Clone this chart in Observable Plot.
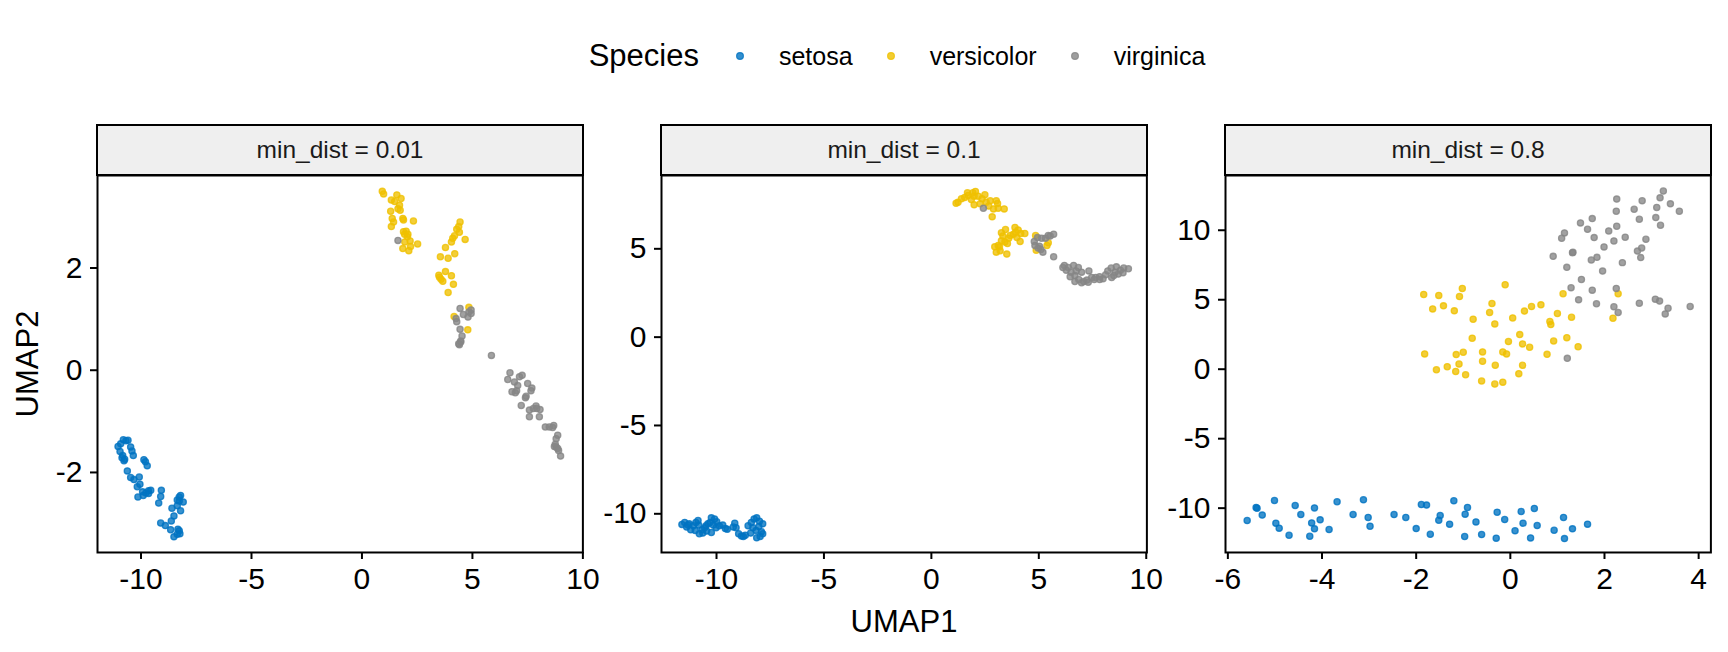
<!DOCTYPE html>
<html><head><meta charset="utf-8">
<script src="https://cdn.jsdelivr.net/npm/d3@7"></script>
<script src="https://cdn.jsdelivr.net/npm/@observablehq/plot@0.6"></script>
<style>
body{margin:0;background:#fff;}
#fig{position:relative;width:1728px;height:652px;overflow:hidden;font-family:"Liberation Sans",Arial,Helvetica,sans-serif;background:#fff;color:#000;}
.strip{position:absolute;box-sizing:border-box;border:2.2px solid #000;background:#efefef;display:flex;align-items:center;justify-content:center;font-size:24.5px;color:#1a1a1a;}
.panel{position:absolute;}
#legend{position:absolute;left:97px;width:1614px;top:32px;height:48px;display:flex;align-items:center;justify-content:center;}
#legend .title{font-size:31px;margin-right:17px;}
#legend .lab{font-size:25px;margin-left:15px;margin-right:14px;}
.xtitle{position:absolute;left:97px;width:1614px;top:604px;text-align:center;font-size:31px;line-height:36px;}
.ytitle{position:absolute;left:28px;top:364px;font-size:31px;line-height:36px;transform:translate(-50%,-50%) rotate(-90deg);white-space:nowrap;}
</style></head>
<body><div id="fig"></div>
<script>
const species = ["setosa", "versicolor", "virginica"];
const colors = ["#0073C2", "#EFC000", "#868686"];
const facets = ["min_dist = 0.01", "min_dist = 0.1", "min_dist = 0.8"];
const xLabel = "UMAP1", yLabel = "UMAP2", legendTitle = "Species";

// Panel 1 (min_dist = 0.01)
const p1_setosa_x = [-10.80,-10.68,-10.92,-11.04,-10.95,-10.86,-10.77,-10.47,-10.41,-10.35,-9.87,-9.72,-9.80,-10.62,-10.47,-10.32,-10.08,-10.05,-10.17,-9.93,-9.78,-9.66,-9.56,-10.14,-9.08,-9.11,-9.20,-8.60,-8.27,-8.36,-8.21,-8.09,-8.36,-8.21,-8.51,-8.63,-9.11,-8.90,-8.66,-8.27,-8.36,-8.51,-8.33,-8.24,-10.83,-9.66,-9.90,-8.27,-10.74,-10.59];
const p1_setosa_y = [-1.36,-1.38,-1.44,-1.49,-1.59,-1.71,-1.77,-1.50,-1.58,-1.67,-1.75,-1.87,-1.79,-1.97,-2.10,-2.14,-2.09,-2.23,-2.28,-2.38,-2.40,-2.36,-2.35,-2.48,-2.35,-2.47,-2.60,-2.70,-2.48,-2.54,-2.45,-2.58,-2.65,-2.75,-2.85,-2.95,-2.99,-3.04,-3.12,-3.14,-3.21,-3.26,-3.11,-3.20,-1.67,-2.41,-2.45,-2.56,-1.74,-1.37];
const p1_versicolor_x = [0.92,0.98,1.33,1.58,1.77,1.70,1.73,1.30,1.37,1.33,1.43,1.85,1.88,2.33,1.88,2.00,2.06,1.94,2.18,2.52,1.85,2.12,4.44,4.38,4.29,4.19,4.05,4.67,3.78,3.55,3.90,4.20,3.48,3.58,3.78,4.05,4.14,3.90,3.66,4.84,4.17,4.79,1.48,4.41,1.93,1.63,3.51,2.20,4.11,2.08];
const p1_versicolor_y = [3.50,3.45,3.33,3.43,3.36,3.23,3.13,3.11,2.97,2.81,2.90,2.97,2.94,2.92,2.71,2.72,2.61,2.51,2.53,2.47,2.38,2.34,2.90,2.81,2.76,2.63,2.51,2.56,2.40,2.22,2.19,2.28,1.86,1.78,1.93,1.85,1.68,1.52,1.74,1.23,1.05,0.79,3.30,2.70,2.66,3.16,1.82,2.42,2.58,2.66];
const p1_virginica_x = [1.63,4.44,4.84,4.94,4.80,4.26,4.29,4.94,4.59,4.44,4.53,4.47,4.41,5.86,6.70,6.60,6.90,7.13,7.25,6.79,7.00,7.50,7.69,7.65,7.40,7.21,7.58,7.88,8.06,7.58,8.03,8.30,8.48,8.68,8.86,8.79,8.71,8.90,8.99,7.76,8.79,7.05,7.91,8.75,8.86,6.94,7.43,4.47,4.38,8.63];
const p1_virginica_y = [2.54,1.21,1.14,1.11,1.04,1.01,0.95,1.18,1.09,0.80,0.67,0.57,0.50,0.29,-0.05,-0.18,-0.23,-0.13,-0.10,-0.42,-0.40,-0.26,-0.35,-0.40,-0.54,-0.69,-0.78,-0.70,-0.77,-0.91,-0.91,-1.11,-1.11,-1.08,-1.27,-1.34,-1.49,-1.57,-1.68,-0.75,-1.50,-0.30,-0.75,-1.45,-1.53,-0.44,-0.51,0.55,0.52,-1.12];

// Panel 2 (min_dist = 0.1)
const p2_setosa_x = [-11.61,-11.48,-11.39,-11.27,-11.20,-11.08,-10.96,-10.86,-10.99,-10.80,-10.64,-10.55,-10.46,-10.30,-10.24,-10.09,-10.15,-10.02,-9.87,-9.71,-9.59,-10.24,-9.15,-9.09,-8.97,-8.84,-8.66,-8.53,-8.38,-8.25,-8.13,-8.31,-8.16,-8.03,-7.91,-7.85,-7.97,-8.13,-8.41,-7.85,-9.22,-10.40,-10.67,-11.33,-9.99,-9.50,-10.49,-8.00,-8.75,-10.83];
const p2_setosa_y = [-10.60,-10.49,-10.75,-10.57,-10.91,-10.68,-10.49,-10.38,-10.94,-11.13,-11.09,-10.79,-10.98,-10.49,-10.23,-10.30,-10.64,-10.79,-10.68,-10.64,-10.83,-11.06,-10.53,-10.79,-11.13,-11.25,-11.21,-10.68,-10.49,-10.30,-10.23,-10.79,-10.94,-10.72,-11.02,-11.13,-11.28,-11.36,-11.09,-10.57,-10.75,-10.57,-10.91,-10.64,-10.45,-10.87,-10.68,-10.42,-11.28,-10.64];
const p2_versicolor_x = [1.15,1.24,1.55,1.71,1.93,2.05,1.86,1.99,2.18,2.36,2.55,2.74,3.02,2.89,3.11,3.39,2.83,1.68,2.27,2.67,3.26,3.45,3.33,3.26,3.11,2.95,3.02,3.20,3.51,3.54,3.89,4.04,3.82,3.98,4.16,4.35,4.13,3.67,4.85,4.88,5.38,5.44,3.42,3.60,1.40,2.49,3.17,3.92,1.99,3.08];
const p2_versicolor_y = [7.58,7.64,7.91,8.02,8.17,8.25,7.79,7.49,7.98,7.83,7.64,7.72,7.72,7.26,7.30,7.26,6.81,8.17,7.55,7.42,5.91,6.09,5.72,5.45,5.19,5.11,4.81,4.89,4.70,5.30,6.21,6.06,5.83,5.64,5.87,5.87,5.42,5.75,5.75,4.92,5.19,5.34,5.38,5.60,7.83,8.06,5.11,5.94,7.98,7.57];
const p2_virginica_x = [2.42,4.79,4.94,5.13,5.31,5.53,5.69,5.03,5.10,5.19,4.97,5.69,6.19,6.37,6.28,6.62,6.74,6.46,6.68,6.86,7.09,7.24,7.33,7.46,7.65,7.83,7.99,7.83,8.39,8.21,8.37,8.61,8.80,8.95,9.17,8.70,8.55,6.99,6.84,8.11,6.50,7.30,6.99,8.49,5.44,4.82,6.68,8.92,7.58,6.12];
const p2_virginica_y = [7.30,5.42,5.64,5.60,5.60,5.72,5.83,5.15,4.96,4.81,5.04,4.55,4.06,3.94,3.79,4.06,3.75,3.42,3.15,3.26,3.15,3.23,3.75,3.38,3.38,3.42,3.30,3.26,3.38,3.75,3.91,3.98,3.79,3.91,3.87,3.57,3.68,3.68,3.94,3.53,3.68,3.11,3.08,3.49,5.75,5.19,3.49,3.64,3.26,3.94];

// Panel 3 (min_dist = 0.8)
const p3_setosa_x = [-5.59,-5.40,-5.38,-5.27,-5.01,-4.98,-4.91,-4.70,-4.57,-4.45,-4.26,-4.22,-4.16,-4.16,-4.04,-3.85,-3.68,-3.34,-3.12,-3.02,-2.98,-2.47,-2.22,-2.00,-1.89,-1.78,-1.70,-1.52,-1.49,-1.29,-1.20,-0.97,-0.96,-0.91,-0.73,-0.61,-0.30,-0.28,-0.12,0.10,0.23,0.27,0.43,0.51,0.57,0.93,1.13,1.15,1.32,1.64];
const p3_setosa_y = [-10.89,-9.95,-10.00,-10.50,-9.45,-11.08,-11.44,-11.95,-9.81,-10.46,-12.02,-11.06,-11.49,-9.98,-10.84,-11.54,-9.54,-10.46,-9.40,-10.67,-11.30,-10.46,-10.67,-11.47,-9.74,-9.78,-11.88,-10.87,-10.53,-11.15,-9.47,-12.04,-10.43,-9.95,-10.99,-11.90,-12.16,-10.29,-10.82,-11.63,-10.24,-11.08,-12.14,-10.02,-11.25,-11.59,-10.67,-12.19,-11.49,-11.15];
const p3_versicolor_x = [-1.84,-1.52,-1.02,-1.08,-1.65,-1.42,-1.19,-0.11,-0.39,-0.44,-0.79,-0.33,0.05,0.30,0.45,0.65,1.12,1.00,1.30,0.84,0.86,2.29,2.18,-0.81,-0.04,0.20,0.26,0.41,0.92,1.20,1.44,0.78,-1.82,-1.15,-1.00,-0.59,-0.16,-0.08,-0.59,-1.09,-1.34,-1.57,-1.16,-0.95,-0.32,0.26,0.18,-0.61,-0.33,-0.16];
const p3_versicolor_y = [5.38,5.31,5.81,5.23,4.34,4.56,4.20,6.08,4.73,4.08,3.60,3.26,3.69,4.18,4.51,4.63,5.43,4.01,3.74,3.43,3.21,5.43,3.67,2.23,1.99,2.49,1.82,1.58,2.03,2.27,1.62,1.07,1.10,1.05,1.22,1.24,1.24,1.10,0.57,0.37,0.18,-0.04,-0.16,-0.40,0.28,0.28,-0.32,-0.85,-1.07,-0.93];
const p3_virginica_x = [3.25,3.18,3.40,3.59,2.26,2.80,2.63,2.25,3.11,2.74,3.09,3.19,1.49,1.74,1.64,2.26,2.09,1.15,1.09,1.78,2.20,2.44,2.88,1.99,2.79,2.70,1.32,1.33,0.91,1.84,1.72,2.77,2.38,1.20,1.96,1.51,1.29,1.74,2.25,1.45,1.83,2.20,2.29,2.74,3.08,3.17,3.35,3.29,3.82,1.21];
const p3_virginica_y = [12.82,12.33,11.90,11.37,12.24,12.12,11.51,11.37,11.64,10.79,10.91,10.36,10.53,10.84,10.07,10.29,9.95,9.81,9.42,9.47,9.23,9.50,9.35,8.80,8.72,8.50,8.38,8.41,8.12,8.05,7.86,8.03,7.67,7.33,7.06,6.46,5.86,5.69,5.81,4.99,4.71,4.49,4.08,4.75,5.04,4.90,4.39,3.98,4.51,0.78];

// Tick labels
const p1_xticks = [-10, -5, 0, 5, 10], p1_yticks = [-2, 0, 2];
const p2_xticks = [-10, -5, 0, 5, 10], p2_yticks = [-10, -5, 0, 5];
const p3_xticks = [-6, -4, -2, 0, 2, 4], p3_yticks = [-10, -5, 0, 5, 10];

function rows(xs, ys, sp) { return xs.map((x, i) => ({x, y: ys[i], species: sp})); }
const panelData = [
  [...rows(p1_setosa_x, p1_setosa_y, species[0]), ...rows(p1_versicolor_x, p1_versicolor_y, species[1]), ...rows(p1_virginica_x, p1_virginica_y, species[2])],
  [...rows(p2_setosa_x, p2_setosa_y, species[0]), ...rows(p2_versicolor_x, p2_versicolor_y, species[1]), ...rows(p2_virginica_x, p2_virginica_y, species[2])],
  [...rows(p3_setosa_x, p3_setosa_y, species[0]), ...rows(p3_versicolor_x, p3_versicolor_y, species[1]), ...rows(p3_virginica_x, p3_virginica_y, species[2])]
];
const xTicks = [p1_xticks, p2_xticks, p3_xticks];
const yTicks = [p1_yticks, p2_yticks, p3_yticks];

// layout
const xDomains = [[-11.97, 10.0], [-12.56, 10.03], [-6.05, 4.26]];
const yDomains = [[-3.566, 3.81], [-12.19, 9.15], [-13.19, 13.94]];
const panelLefts = [97.3, 661.3, 1225.3];
const panelTop = 175, pw = 485.4, ph = 377;
const mL = 80, mR = 6, mT = 2, mB = 60;

const fig = document.getElementById("fig");

// legend
const leg = document.createElement("div");
leg.id = "legend";
const lt = document.createElement("span"); lt.className = "title"; lt.textContent = legendTitle; leg.appendChild(lt);
species.forEach((s, i) => {
  const key = document.createElementNS("http://www.w3.org/2000/svg", "svg");
  key.setAttribute("width", 48); key.setAttribute("height", 48);
  const c = document.createElementNS("http://www.w3.org/2000/svg", "circle");
  c.setAttribute("cx", 24); c.setAttribute("cy", 24); c.setAttribute("r", 3.4);
  c.setAttribute("fill", colors[i]); c.setAttribute("fill-opacity", 0.8);
  c.setAttribute("stroke", colors[i]); c.setAttribute("stroke-opacity", 0.8); c.setAttribute("stroke-width", 1.2);
  key.appendChild(c); leg.appendChild(key);
  const lab = document.createElement("span"); lab.className = "lab"; lab.textContent = s; leg.appendChild(lab);
});
fig.appendChild(leg);

for (let i = 0; i < 3; i++) {
  const p = Plot.plot({
    width: mL + pw + mR, height: mT + ph + mB,
    marginLeft: mL, marginRight: mR, marginTop: mT, marginBottom: mB,
    x: {domain: xDomains[i], label: null},
    y: {domain: yDomains[i], label: null},
    color: {domain: species, range: colors},
    style: {fontFamily: '"Liberation Sans", Arial, Helvetica, sans-serif', background: "transparent", overflow: "visible", color: "black"},
    marks: [
      Plot.dot(panelData[i], {x: "x", y: "y", fill: "species", stroke: "species", r: 3.1, fillOpacity: 0.78, strokeOpacity: 0.8, strokeWidth: 1.3}),
      Plot.frame({stroke: "black", strokeWidth: 2}),
      Plot.axisX(xTicks[i], {tickSize: 7, tickPadding: 8, fontSize: 30, tickFormat: d => String(d), strokeWidth: 2, stroke: "black", fill: "black"}),
      Plot.axisY(yTicks[i], {tickSize: 7, tickPadding: 8, fontSize: 30, tickFormat: d => String(d), strokeWidth: 2, stroke: "black", fill: "black"})
    ]
  });
  p.classList.add("panel");
  p.style.left = (panelLefts[i] - mL) + "px";
  p.style.top = (panelTop - mT) + "px";
  fig.appendChild(p);

  const st = document.createElement("div");
  st.className = "strip";
  st.style.left = (panelLefts[i] - 1) + "px";
  st.style.top = "124px";
  st.style.width = (pw + 2) + "px";
  st.style.height = "52px";
  st.textContent = facets[i];
  fig.appendChild(st);
}

const xt = document.createElement("div"); xt.className = "xtitle"; xt.textContent = xLabel; fig.appendChild(xt);
const yt = document.createElement("div"); yt.className = "ytitle"; yt.textContent = yLabel; fig.appendChild(yt);
</script>
</body></html>
